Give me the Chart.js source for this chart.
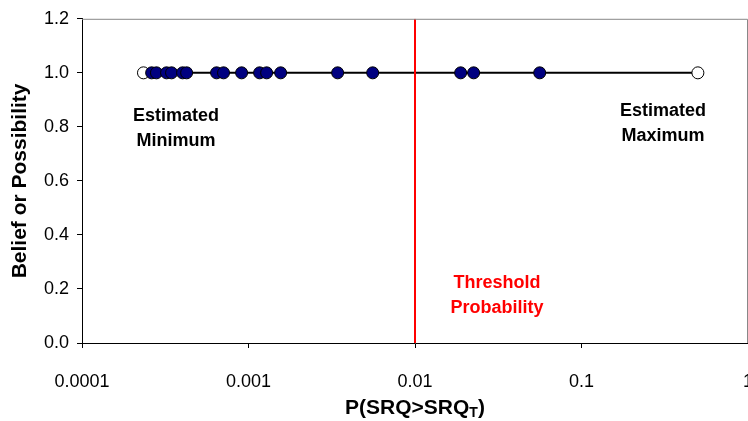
<!DOCTYPE html>
<html><head><meta charset="utf-8">
<script src="https://cdn.jsdelivr.net/npm/chart.js@4/dist/chart.umd.min.js"></script>
<style>html,body{margin:0;padding:0;background:#fff;overflow:hidden}#wrap{width:748px;height:421px;overflow:hidden;position:relative}canvas{display:block}</style>
</head><body><div id="wrap"><canvas id="c" width="800" height="421" style="width:800px;height:421px"></canvas></div>
<script>
// ---- data ----
const xTickValues = [0.0001, 0.001, 0.01, 0.1, 1];
const xTickLabels = ['0.0001', '0.001', '0.01', '0.1', '1'];
const yTickValues = [0, 0.2, 0.4, 0.6, 0.8, 1.0, 1.2];
const beliefLevel = 1.0;
const thresholdProbability = 0.01;
const estimatedMinimum = 0.000234;
const estimatedMaximum = 0.5;
const sampleProbabilities = [0.000262, 0.000280, 0.000322, 0.000345, 0.000402, 0.000425,
  0.000643, 0.000708, 0.000909, 0.001166, 0.001285, 0.00156, 0.00343, 0.00557,
  0.0188, 0.0225, 0.0561];
const annMin = ['Estimated', 'Minimum'];
const annMax = ['Estimated', 'Maximum'];
const annThr = ['Threshold', 'Probability'];
const yTitle = 'Belief or Possibility';
const xTitleMain = 'P(SRQ>SRQ';
const xTitleSub = 'T';

const FONT = '"Liberation Sans", Arial, sans-serif';

const extras = {
  id: 'extras',
  beforeDraw(chart) {
    const c = chart.ctx;
    c.save();
    c.fillStyle = '#fff';
    c.fillRect(0, 0, chart.width, chart.height);
    c.restore();
  },
  afterDatasetsDraw(chart) {
    const c = chart.ctx, a = chart.chartArea;
    c.save();
    c.strokeStyle = '#888';
    c.lineWidth = 1;
    c.beginPath();
    c.moveTo(a.left, a.top + 0.5);
    c.lineTo(a.right - 0.5, a.top + 0.5);
    c.lineTo(a.right - 0.5, a.bottom);
    c.stroke();
    c.restore();
  },
  afterDraw(chart) {
    const c = chart.ctx;
    c.save();
    c.textAlign = 'center';
    c.textBaseline = 'middle';
    c.font = 'bold 18px ' + FONT;
    const drawLines = (lines, cx, cy, color) => {
      c.fillStyle = color;
      lines.forEach((t, i) => c.fillText(t, cx, cy + i * 25));
    };
    drawLines(annMin, 176, 116, '#000');
    drawLines(annMax, 663, 111, '#000');
    drawLines(annThr, 497, 283, '#ff0000');
    // x axis title with subscript
    c.fillStyle = '#000';
    const big = 'bold 21px ' + FONT, small = 'bold 14px ' + FONT;
    c.font = big;
    const w1 = c.measureText(xTitleMain).width;
    const w3 = c.measureText(')').width;
    c.font = small;
    const w2 = c.measureText(xTitleSub).width;
    const total = w1 + w2 + w3;
    const x0 = 415 - total / 2;
    const y0 = 408;
    c.textAlign = 'left';
    c.font = big;
    c.fillText(xTitleMain, x0, y0);
    c.font = small;
    c.fillText(xTitleSub, x0 + w1, y0 + 5);
    c.font = big;
    c.fillText(')', x0 + w1 + w2, y0);
    c.restore();
  }
};

new Chart(document.getElementById('c'), {
  type: 'scatter',
  data: {
    datasets: [
      {
        label: 'samples',
        data: sampleProbabilities.map(v => ({x: v, y: beliefLevel})),
        pointRadius: 6,
        pointBackgroundColor: '#000080',
        pointBorderColor: '#000',
        pointBorderWidth: 1,
        showLine: false,
        order: 0
      },
      {
        label: 'bounds',
        data: [{x: estimatedMinimum, y: beliefLevel}, {x: estimatedMaximum, y: beliefLevel}],
        pointRadius: 6,
        pointBackgroundColor: '#fff',
        pointBorderColor: '#000',
        pointBorderWidth: 1,
        showLine: false,
        order: 1
      },
      {
        label: 'threshold',
        data: [{x: thresholdProbability, y: yTickValues[0]}, {x: thresholdProbability, y: yTickValues[yTickValues.length - 1]}],
        showLine: true,
        borderColor: '#ff0000',
        borderWidth: 2,
        pointRadius: 0,
        order: 2
      },
      {
        label: 'range',
        data: [{x: estimatedMinimum, y: beliefLevel}, {x: estimatedMaximum, y: beliefLevel}],
        showLine: true,
        borderColor: '#000',
        borderWidth: 2,
        pointRadius: 0,
        order: 3
      }
    ]
  },
  options: {
    responsive: false,
    devicePixelRatio: 1,
    animation: false,
    layout: {padding: {top: 17, right: 52, left: 0, bottom: 0}},
    plugins: {legend: {display: false}, tooltip: {enabled: false}},
    scales: {
      x: {
        type: 'logarithmic',
        min: xTickValues[0],
        max: xTickValues[xTickValues.length - 1],
        afterBuildTicks: s => { s.ticks = xTickValues.map(v => ({value: v})); },
        afterFit: s => { s.height = 78; },
        ticks: {
          autoSkip: false,
          maxRotation: 0,
          padding: 23,
          color: '#000',
          font: {family: FONT, size: 18},
          callback: (v) => { const i = xTickValues.indexOf(v); return i >= 0 ? xTickLabels[i] : ''; }
        },
        grid: {drawOnChartArea: false, drawTicks: true, tickLength: 5, color: '#000'},
        border: {color: '#000', width: 1}
      },
      y: {
        type: 'linear',
        min: yTickValues[0],
        max: yTickValues[yTickValues.length - 1],
        afterBuildTicks: s => { s.ticks = yTickValues.map(v => ({value: v})); },
        afterFit: s => { s.width = 82; },
        ticks: {
          padding: 8,
          color: '#000',
          font: {family: FONT, size: 18},
          callback: v => Number(v).toFixed(1)
        },
        title: {display: true, text: yTitle, color: '#000', font: {family: FONT, size: 21, weight: 'bold'}, padding: {top: 8, bottom: 0}},
        grid: {drawOnChartArea: false, drawTicks: true, tickLength: 5, color: '#000'},
        border: {color: '#000', width: 1}
      }
    }
  },
  plugins: [extras]
});
</script>
</body></html>
